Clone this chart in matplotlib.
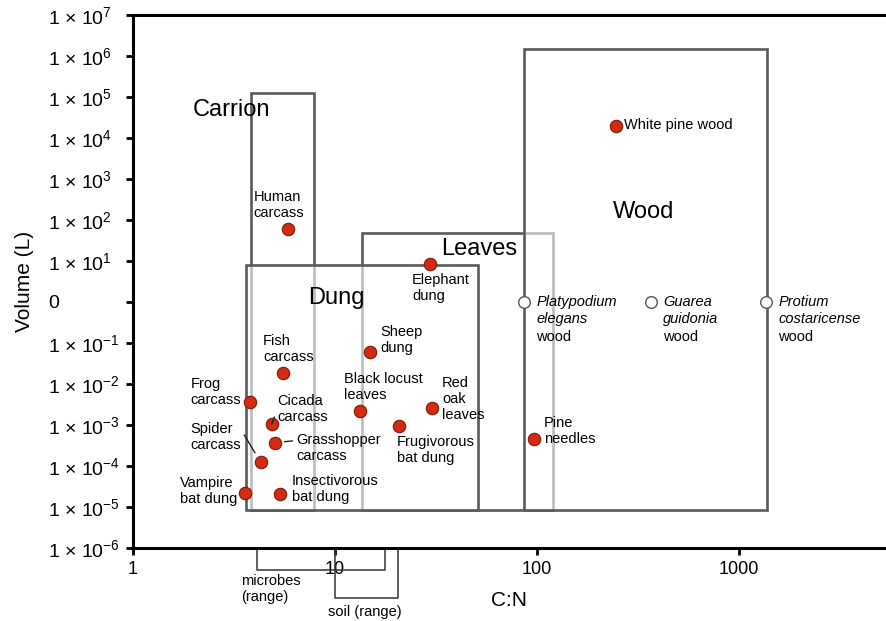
import matplotlib
matplotlib.use('Agg')
import matplotlib.pyplot as plt
import matplotlib.transforms as mtransforms
from matplotlib.patches import Rectangle

plt.rcParams['font.family'] = ['Liberation Sans', 'DejaVu Sans']
plt.rcParams['mathtext.fontset'] = 'custom'
plt.rcParams['mathtext.rm'] = 'Liberation Sans'
plt.rcParams['mathtext.it'] = 'Liberation Sans:italic'

# resource boxes: C:N range and volume range
box_names = ['Carrion', 'Leaves', 'Dung', 'Wood']
box_x_lo = [3.83, 13.6, 3.63, 86.5]
box_x_hi = [7.87, 119.6, 51.0, 1371]
box_y_lo = [8.5e-6, 8.5e-6, 8.5e-6, 8.5e-6]
box_y_hi = [1.26e5, 48, 7.9, 1.45e6]

# measured resources (filled)
names = ['White pine wood', 'Human\ncarcass', 'Elephant\ndung', 'Sheep\ndung',
         'Fish\ncarcass', 'Frog\ncarcass', 'Cicada\ncarcass', 'Grasshopper\ncarcass',
         'Spider\ncarcass', 'Vampire\nbat dung', 'Insectivorous\nbat dung',
         'Black locust\nleaves', 'Frugivorous\nbat dung', 'Red\noak\nleaves',
         'Pine\nneedles']
cn = [246, 5.85, 29.5, 14.9, 5.53, 3.81, 4.86, 5.03, 4.29, 3.60, 5.34, 13.3, 20.8, 30.3, 96.3]
volume = [1.95e4, 60, 8.4, 0.059, 0.0189, 0.0037, 0.00106, 3.7e-4, 1.23e-4,
          2.2e-5, 2.1e-5, 0.00215, 9.6e-4, 0.0026, 4.6e-4]

# tropical woods (open)
wood_species = ['Platypodium\nelegans', 'Guarea\nguidonia', 'Protium\ncostaricense']
wood_cn = [86.5, 368, 1366]
wood_volume = [1, 1, 1]

microbes_range = [4.1, 17.7]
soil_range = [10, 20.4]

y_exponents = list(range(-6, 8))
x_ticks = [1, 10, 100, 1000]

# label layout: (dx, dy) in pixels, ha
label_layout = [(8, 1, 'left'), (-9, 24, 'center'), (-18, -24, 'left'), (10, 12, 'left'),
                (-20, 24, 'left'), (-9, 10, 'right'), (6, 15, 'left'), (22, -5, 'left'),
                (-20, 25, 'right'), (-8, 2, 'right'), (12, 5, 'left'),
                (-16, 24, 'left'), (-2, -24, 'left'), (10, 9, 'left'), (10, 8, 'left')]
leaders = {6: (0.02, 0.6, 6), 7: (0.0, 0.74, 7), 8: (0.96, 0.88, 8)}

fig = plt.figure(figsize=(8.86, 6.21), dpi=100)
ax = fig.add_axes([133 / 886, 1 - 548 / 621, 1 - 133 / 886, (548 - 15) / 621])
ax.set_xscale('log')
ax.set_yscale('log')
ax.set_xlim(1, 5345)
ax.set_ylim(1e-6, 1e7)

for i, name in enumerate(box_names):
    ax.add_patch(Rectangle((box_x_lo[i], box_y_lo[i]), box_x_hi[i] - box_x_lo[i],
                           box_y_hi[i] - box_y_lo[i], facecolor=(1, 1, 1, 0.6),
                           edgecolor='#5a5a5a', linewidth=1.9, zorder=2 + i))

region_pos = {'Carrion': (3.06, 4.8e4), 'Dung': (10.2, 1.25), 'Leaves': (52, 19.6), 'Wood': (339, 157)}
for name in box_names:
    ax.text(*region_pos[name], name, fontsize=17, ha='center', va='center', zorder=8)

ax.scatter(cn, volume, s=80, color='#d42a12', edgecolors='#7a1a0c', linewidths=0.8, zorder=10)
ax.scatter(wood_cn, wood_volume, s=70, color='white', edgecolors='#555555', linewidths=1.0, zorder=10)

for i, name in enumerate(names):
    dx, dy, ha = label_layout[i]
    kw = {}
    if i in leaders:
        rx, ry, sh = leaders[i]
        kw['arrowprops'] = dict(arrowstyle='-', color='#222222', lw=1.0,
                                relpos=(rx, ry), shrinkA=1, shrinkB=sh)
    ax.annotate(name, (cn[i], volume[i]), xytext=(dx, dy), textcoords='offset pixels',
                ha=ha, va='center', multialignment='left', fontsize=10.5, zorder=11, **kw)

for i, name in enumerate(wood_species):
    ax.annotate(name, (wood_cn[i], wood_volume[i]), xytext=(12, -8.5), textcoords='offset pixels',
                ha='left', va='center', fontsize=10.5, style='italic', zorder=11)
    ax.annotate('wood', (wood_cn[i], wood_volume[i]), xytext=(12, -35), textcoords='offset pixels',
                ha='left', va='center', fontsize=10.5, zorder=11)

# ranges drawn below the axis
trans = mtransforms.blended_transform_factory(ax.transData, ax.transAxes)
for rng, depth in [(microbes_range, -0.041), (soil_range, -0.094)]:
    ax.plot([rng[0], rng[0], rng[1], rng[1]], [-0.004, depth, depth, -0.004], color='#333333',
            lw=1.1, transform=trans, clip_on=False)
ax.text(3.42, -0.077, 'microbes\n(range)', transform=trans, ha='left', va='center',
        multialignment='left', fontsize=10.5)
ax.text(14.1, -0.120, 'soil (range)', transform=trans, ha='center', va='center', fontsize=10.5)

ax.set_yticks([10.0 ** e for e in y_exponents])
ax.set_yticklabels(['0' if e == 0 else '1 × 10$^{%d}$' % e for e in y_exponents])
ax.set_xticks(x_ticks)
ax.set_xticklabels([str(t) for t in x_ticks])
ax.minorticks_off()
ax.tick_params(axis='y', length=5, width=2, labelsize=14, pad=56)
for lab in ax.get_yticklabels():
    lab.set_horizontalalignment('left')
ax.tick_params(axis='x', length=5, width=2, labelsize=13, pad=4)

for s in ['left', 'bottom', 'top']:
    ax.spines[s].set_linewidth(2.2)
ax.spines['right'].set_visible(False)

ax.set_xlabel('C:N', fontsize=15, labelpad=10)
ax.set_ylabel('Volume (L)', fontsize=15, labelpad=10)

fig.savefig('out.png', dpi=100)
